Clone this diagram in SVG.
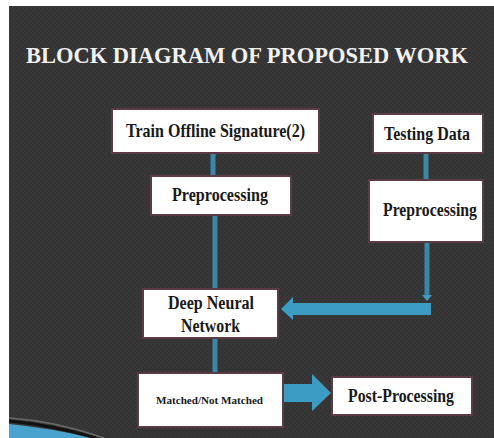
<svg xmlns="http://www.w3.org/2000/svg" width="494" height="438" viewBox="0 0 494 438">
  <style>
    .node rect { fill: #ffffff; stroke: #5b3c44; stroke-width: 2; }
    .node text { font-family: "Liberation Serif", "Times New Roman", serif; font-weight: bold; fill: #1a1a1a; text-anchor: middle; }
    .title { font-family: "Liberation Serif", "Times New Roman", serif; font-weight: bold; fill: #f2f2f2; font-size: 23px; }
    .link { stroke: #3a87a6; stroke-width: 5; fill: none; }
    .fat { fill: #3d9cc4; }
  </style>
  <defs>
    <pattern id="grain" width="4" height="4" patternUnits="userSpaceOnUse">
      <rect width="4" height="4" fill="#343434"/>
      <path d="M0 4 L4 0" stroke="#3b3b3b" stroke-width="1"/>
    </pattern>
  </defs>

  <!-- page and slide background -->
  <rect x="0" y="0" width="494" height="438" fill="#ffffff"/>
  <rect x="9" y="6" width="485" height="432" fill="url(#grain)"/>

  <!-- corner swoosh -->
  <path d="M9 424 Q50 428 92 438 L9 438 Z" fill="#4aa3cf"/>
  <path d="M9 421 Q52 425 96 438" stroke="#111" stroke-width="3" fill="none"/>
  <path d="M9 418 Q55 421 104 438" stroke="#6a6a6a" stroke-width="1.5" fill="none"/>

  <text class="title" x="26" y="63" textLength="442" lengthAdjust="spacingAndGlyphs">BLOCK DIAGRAM OF PROPOSED WORK</text>

  <!-- connectors -->
  <g id="connectors">
    <line class="link" x1="213" y1="153" x2="213" y2="176"/>
    <line class="link" x1="215" y1="215" x2="215" y2="289"/>
    <line class="link" x1="426" y1="153" x2="426" y2="180"/>
    <line class="link" x1="427" y1="242" x2="427" y2="296"/>
    <path class="fat" d="M422 295 L432 295 L427 301 Z"/>
    <path class="fat" d="M431 303 L293 303 L293 297 L281 309 L293 320 L293 315 L431 315 Z"/>
    <line class="link" x1="215" y1="338" x2="215" y2="373"/>
    <path class="fat" d="M284 384 L312 384 L312 374 L331 393 L312 411 L312 402 L284 402 Z"/>
  </g>

  <g id="train" class="node">
    <rect x="112" y="109" width="207" height="44"/>
    <text x="215.5" y="137" font-size="19" textLength="179" lengthAdjust="spacingAndGlyphs">Train Offline Signature(2)</text>
  </g>

  <g id="preprocess-train" class="node">
    <rect x="151" y="176" width="140" height="39"/>
    <text x="220" y="200.5" font-size="18.5" textLength="96" lengthAdjust="spacingAndGlyphs">Preprocessing</text>
  </g>

  <g id="testing" class="node">
    <rect x="373" y="114" width="110" height="39"/>
    <text x="427" y="140" font-size="18" textLength="86" lengthAdjust="spacingAndGlyphs">Testing Data</text>
  </g>

  <g id="preprocess-test" class="node">
    <rect x="369" y="180" width="114" height="62"/>
    <text x="430" y="216" font-size="18" textLength="94" lengthAdjust="spacingAndGlyphs">Preprocessing</text>
  </g>

  <g id="dnn" class="node">
    <rect x="143" y="289" width="135" height="49"/>
    <text x="211" y="309" font-size="18" textLength="86" lengthAdjust="spacingAndGlyphs">Deep Neural</text>
    <text x="210.5" y="332" font-size="18" textLength="59" lengthAdjust="spacingAndGlyphs">Network</text>
  </g>

  <g id="match" class="node">
    <rect x="138" y="373" width="145" height="54"/>
    <text x="209.5" y="404" font-size="11" textLength="107" lengthAdjust="spacingAndGlyphs">Matched/Not Matched</text>
  </g>

  <g id="post" class="node">
    <rect x="332" y="377" width="140" height="38"/>
    <text x="401" y="402" font-size="18.5" textLength="106" lengthAdjust="spacingAndGlyphs">Post-Processing</text>
  </g>
</svg>
